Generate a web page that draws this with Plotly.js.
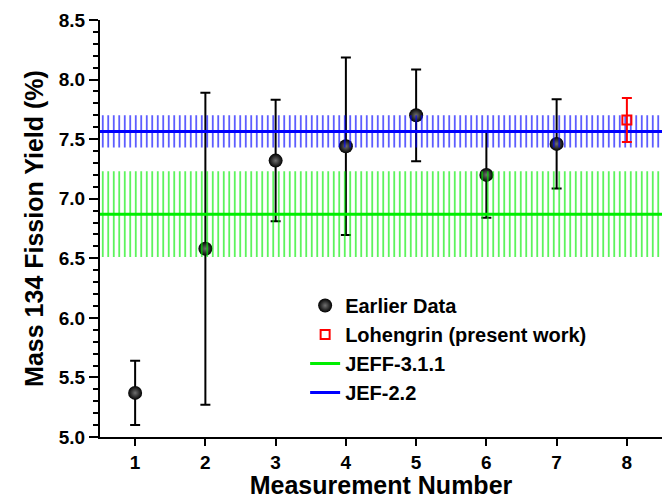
<!DOCTYPE html>
<html>
<head>
<meta charset="utf-8">
<script src="https://cdn.plot.ly/plotly-3.0.1.min.js"></script>
<style>html,body{margin:0;padding:0;background:#fff;}#chart{width:667px;height:499px;}</style>
</head>
<body>
<div id="chart"></div>
<script>
// ---- data ----
const measurement = [1, 2, 3, 4, 5, 6, 7];
const earlierYield = [5.37, 6.58, 7.32, 7.44, 7.70, 7.20, 7.46];
const earlierErr = [0.27, 1.31, 0.51, 0.745, 0.385, 0.36, 0.375];

const lohengrinX = [8];
const lohengrinYield = [7.66];
const lohengrinErr = [0.185];

const xSpan = [0.5, 8.5];
const jeffValue = 6.87, jeffErr = 0.36;
const jefValue = 7.565, jefErr = 0.135;

const xTicks = [1, 2, 3, 4, 5, 6, 7, 8];
const yRange = [5.0, 8.5];

const font = {family: 'Liberation Sans, Arial, sans-serif', weight: 'bold', color: '#000'};
function f(size) { return Object.assign({}, font, {size: size}); }

function band(value, err, color) {
  return {
    x: [xSpan[0], xSpan[1], xSpan[1], xSpan[0], xSpan[0]],
    y: [value - err, value - err, value + err, value + err, value - err],
    type: 'scatter', mode: 'lines', fill: 'toself',
    fillcolor: 'rgba(0,0,0,0)',
    fillpattern: {shape: '|', size: 5.5, solidity: 0.25, fgcolor: color, bgcolor: 'rgba(0,0,0,0)'},
    line: {width: 0}, showlegend: false, hoverinfo: 'skip'
  };
}

const traces = [
  {
    x: measurement, y: earlierYield, type: 'scatter', mode: 'markers', name: 'Earlier Data',
    legendrank: 1,
    marker: {size: 14, color: '#000', gradient: {type: 'radial', color: '#707070'}},
    error_y: {type: 'data', array: earlierErr, visible: true, color: '#000', thickness: 2, width: 5}
  },
  band(jeffValue, jeffErr, 'rgba(0,235,0,0.85)'),
  band(jefValue, jefErr, 'rgba(0,0,255,0.85)'),
  {
    x: xSpan, y: [jeffValue, jeffValue], type: 'scatter', mode: 'lines', name: 'JEFF-3.1.1',
    legendrank: 3, line: {color: '#00ee00', width: 3}
  },
  {
    x: xSpan, y: [jefValue, jefValue], type: 'scatter', mode: 'lines', name: 'JEF-2.2',
    legendrank: 4, line: {color: '#0000ff', width: 3}
  },
  {
    x: lohengrinX, y: lohengrinYield, type: 'scatter', mode: 'markers', name: 'Lohengrin (present work)',
    legendrank: 2,
    marker: {symbol: 'square-open', size: 9, color: '#ff0000', line: {width: 2, color: '#ff0000'}},
    error_y: {type: 'data', array: lohengrinErr, visible: true, color: '#ff0000', thickness: 2, width: 5}
  }
];

const axisCommon = {
  showgrid: false, zeroline: false, showline: true, linecolor: '#000', linewidth: 2,
  tickcolor: '#000', tickwidth: 2
};

const layout = {
  width: 667, height: 499,
  margin: {l: 100, r: 5, t: 20, b: 62},
  paper_bgcolor: '#fff', plot_bgcolor: '#fff',
  showlegend: true,
  legend: {
    x: 0.365, y: 0.362, xanchor: 'left', yanchor: 'top',
    bgcolor: 'rgba(0,0,0,0)', font: f(20), tracegroupgap: 0
  },
  xaxis: Object.assign({}, axisCommon, {
    range: xSpan, tickvals: xTicks, ticks: 'outside', ticklen: 7,
    tickfont: f(19), title: {text: 'Measurement Number', font: f(25), standoff: 8}
  }),
  xaxis2: Object.assign({}, axisCommon, {
    range: xSpan, tickvals: xTicks, ticks: 'inside', ticklen: 7,
    overlaying: 'x', side: 'top', anchor: 'y', showticklabels: false
  }),
  yaxis: Object.assign({}, axisCommon, {
    range: yRange, dtick: 0.5, tick0: 5, tickformat: '.1f', ticks: 'outside', ticklen: 9,
    minor: {dtick: 0.1, ticks: 'outside', ticklen: 5, tickwidth: 2, tickcolor: '#000', showgrid: false},
    tickfont: f(19), title: {text: 'Mass 134 Fission Yield (%)', font: f(25), standoff: 8}
  }),
  yaxis2: Object.assign({}, axisCommon, {
    range: yRange, dtick: 0.5, tick0: 5, ticks: 'inside', ticklen: 7,
    minor: {dtick: 0.1, ticks: 'inside', ticklen: 4, tickwidth: 2, tickcolor: '#000', showgrid: false},
    overlaying: 'y', side: 'right', anchor: 'x', showticklabels: false
  })
};

Plotly.newPlot('chart', traces, layout, {displayModeBar: false, staticPlot: true});
</script>
</body>
</html>
